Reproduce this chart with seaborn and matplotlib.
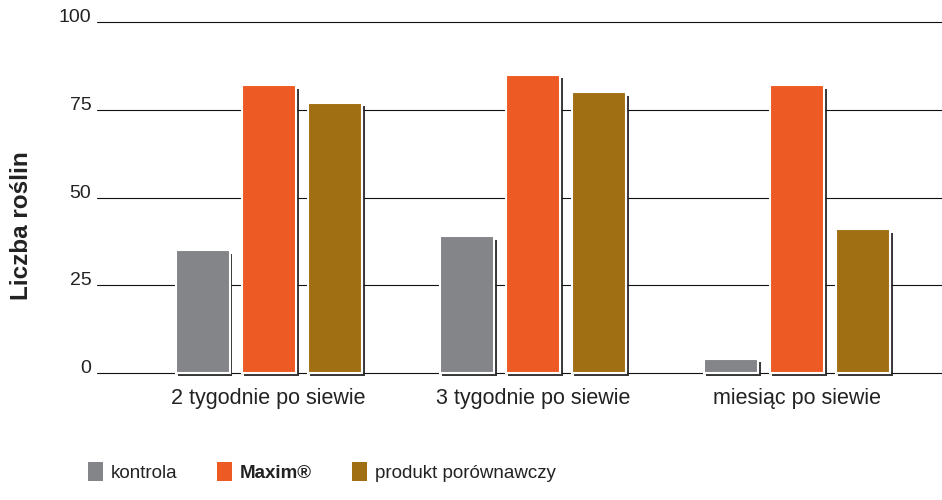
import pandas as pd
import matplotlib.pyplot as plt
import matplotlib.patheffects as pe
from matplotlib.patches import Patch
import seaborn as sns

# data
terms = ['2 tygodnie po siewie', '3 tygodnie po siewie', 'miesiąc po siewie']
groups = ['kontrola', 'Maxim®', 'produkt porównawczy']
kontrola = [35, 39, 4]
maxim = [82, 85, 82]
produkt = [77, 80, 41]
y_ticks = [0, 25, 50, 75, 100]

colors = ['#848589', '#EE5A24', '#A06F14']

rows = []
for g, vals in zip(groups, [kontrola, maxim, produkt]):
    for t, v in zip(terms, vals):
        rows.append({'term': t, 'group': g, 'value': v})
df = pd.DataFrame(rows)

sns.set_style("white")
plt.rcParams['font.family'] = ['Liberation Sans', 'DejaVu Sans']

fig = plt.figure(figsize=(9.42, 5), dpi=100)
ax = fig.add_axes([0.103, 0.254, 0.897, 0.702])

sns.barplot(data=df, x='term', y='value', hue='group', palette=colors, saturation=1,
            width=0.75, gap=0.18, ax=ax, legend=False, zorder=3)

# white rim and dark drop shadow like the original
for p in ax.patches:
    p.set_edgecolor('white')
    p.set_linewidth(1.5)
    p.set_clip_on(False)
    p.set_path_effects([pe.SimplePatchShadow(offset=(2, -2.5), shadow_rgbFace='#222222', alpha=0.9),
                        pe.Normal()])

ax.set_ylim(0, 100)
ax.set_xlim(-0.65, 2.55)
ax.set_yticks(y_ticks)
for y in y_ticks:
    ax.axhline(y, color='#111111', linewidth=0.8, zorder=1, clip_on=False)

for s in ax.spines.values():
    s.set_visible(False)
ax.tick_params(axis='y', length=0, labelsize=14, colors='#222222', pad=4)
ax.tick_params(axis='x', length=0, labelsize=15.5, colors='#222222', pad=10.5)
for lbl in ax.get_yticklabels():
    lbl.set_verticalalignment('baseline')
ax.set_xlabel('')
ax.set_ylabel('Liczba roślin', fontsize=17.5, fontweight='bold', color='#222222')
ax.yaxis.set_label_coords(-0.0755, 0.42)

handles = [Patch(facecolor=c, edgecolor='none') for c in colors]
leg = fig.legend(handles, groups, loc='center left', bbox_to_anchor=(0.0934, 0.056),
                 ncol=3, frameon=False, fontsize=13.5, handlelength=0.8, handleheight=1.17,
                 handletextpad=0.4, columnspacing=2.15, borderpad=0, borderaxespad=0)
leg.get_texts()[1].set_fontweight('bold')
for t in leg.get_texts():
    t.set_color('#222222')

fig.savefig('out.png', dpi=100)
plt.close()
